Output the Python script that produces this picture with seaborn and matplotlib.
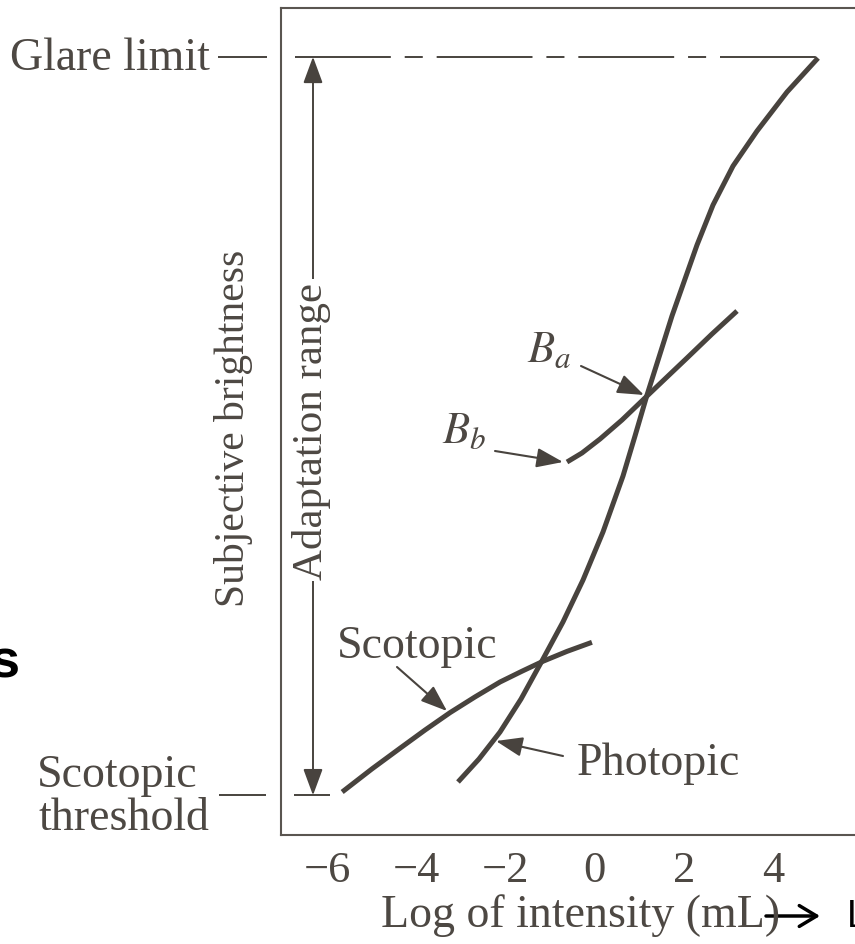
import matplotlib
matplotlib.use("Agg")
import matplotlib.pyplot as plt
import seaborn as sns

# readings: x = log intensity (mL), y = subjective brightness (arbitrary units)
photopic_x = [-3.063, -2.592, -2.121, -1.650, -1.157, -0.709, -0.260, 0.188, 0.637, 0.906,
              1.175, 1.466, 1.735, 2.027, 2.296, 2.655, 3.103, 3.641, 4.314, 5.009]
photopic_y = [0.641, 0.919, 1.245, 1.644, 2.128, 2.576, 3.083, 3.664, 4.341, 4.825,
              5.320, 5.816, 6.276, 6.723, 7.134, 7.618, 8.089, 8.512, 8.984, 9.395]

scotopic_x = [-5.66, -4.99, -4.36, -3.80, -3.24, -2.68, -2.12, -1.63, -1.16, -0.62, -0.06]
scotopic_y = [0.52, 0.80, 1.05, 1.27, 1.48, 1.67, 1.85, 1.98, 2.10, 2.22, 2.33]

bb_x = [-0.619, -0.283, 0.121, 0.614, 1.175, 1.623, 2.072, 2.632, 3.193]
bb_y = [4.510, 4.619, 4.788, 5.018, 5.308, 5.538, 5.768, 6.058, 6.336]

glare_level = 9.41
threshold_level = 0.48

major_ticks = [-6, -4, -2, 0, 2, 4]
minor_ticks = [-5, -3, -1, 1, 3]
tick_labels = ["\u22126", "\u22124", "\u22122", "0", "2", "4"]

INK = "#48433e"
TEXT = "#4d4843"

W, H = 855, 945
X0, XU = 594.6, 44.6   # pixel of x=0 and pixels per unit
Y0, YU = 836, 82.7     # pixel of y=0 and pixels per unit


def dx(px):
    return (px - X0) / XU


def dy(py):
    return (Y0 - py) / YU


def fx(px):
    return px / W


def fy(py):
    return 1 - py / H


sns.set_theme(style="white")
plt.rcParams["font.family"] = ["Liberation Serif", "DejaVu Serif"]
plt.rcParams["mathtext.fontset"] = "stix"
plt.rcParams["lines.scale_dashes"] = False

fig = plt.figure(figsize=(W / 100, H / 100), dpi=100)
ax = fig.add_axes([fx(281), fy(836), 1 - fx(281), (836 - 9) / H])
ax.set_xlim(dx(281), dx(855))
ax.set_ylim(0, dy(9))

# curves
for xs, ys in [(photopic_x, photopic_y), (scotopic_x, scotopic_y), (bb_x, bb_y)]:
    sns.lineplot(x=xs, y=ys, ax=ax, color=INK, lw=3.6, sort=False, estimator=None,
                 solid_capstyle="butt", solid_joinstyle="round")

# glare limit dashed line and leaders
ax.hlines(glare_level, dx(295), dx(818), colors=INK, lw=1.4,
          linestyles=[(0, (69, 10, 13, 10))])
ax.hlines(glare_level, dx(218), dx(267), colors=INK, lw=1.4, clip_on=False)
ax.hlines(threshold_level, dx(219), dx(266), colors=INK, lw=1.4, clip_on=False)
ax.hlines(threshold_level, dx(294), dx(330), colors=INK, lw=1.4)

# adaptation range arrow
x_ar = dx(313)
ax.annotate("", xy=(x_ar, glare_level), xytext=(x_ar, threshold_level),
            arrowprops=dict(arrowstyle="<|-|>,head_length=0.65,head_width=0.24",
                            mutation_scale=25, lw=1.4, color=INK, shrinkA=0, shrinkB=0))
ax.text(dx(311), dy(431), "Adaptation range", rotation=90, ha="center", va="center",
        fontsize=31, color=TEXT, bbox=dict(fc="white", ec="none", pad=2))


def pointer(p_from, p_to):
    ax.annotate("", xy=(dx(p_to[0]), dy(p_to[1])), xytext=(dx(p_from[0]), dy(p_from[1])),
                arrowprops=dict(arrowstyle="-|>,head_length=0.65,head_width=0.24",
                                mutation_scale=25, lw=1.5, color=INK, shrinkA=0, shrinkB=0))


pointer((397, 668), (447, 712))
pointer((563, 757), (496, 742))
pointer((581, 367), (644, 396))
pointer((495, 452), (563, 463))

ax.text(dx(337), dy(658), "Scotopic", ha="left", va="baseline", fontsize=33, color=TEXT)
ax.text(dx(577), dy(775), "Photopic", ha="left", va="baseline", fontsize=33, color=TEXT)
ax.text(dx(527), dy(362), r"$B_a$", ha="left", va="baseline", fontsize=32, color=TEXT)
ax.text(dx(442), dy(443), r"$B_b$", ha="left", va="baseline", fontsize=32, color=TEXT)

# axes styling
for side in ["left", "bottom", "top"]:
    ax.spines[side].set_color("#5a5550")
    ax.spines[side].set_linewidth(1.5)
ax.spines["right"].set_visible(False)
ax.set_yticks([])
ax.set_xticks(major_ticks)
ax.set_xticklabels(tick_labels)
ax.set_xticks(minor_ticks, minor=True)
ax.tick_params(axis="x", which="major", direction="in", length=21, width=1.1,
               colors=INK, labelcolor=TEXT, labelsize=32, pad=11)
ax.tick_params(axis="x", which="minor", direction="in", length=11, width=1.1, colors=INK)

# outside labels
fig.text(fx(210), fy(70), "Glare limit", ha="right", va="baseline", fontsize=33, color=TEXT)
fig.text(fx(37), fy(787), "Scotopic", ha="left", va="baseline", fontsize=33, color=TEXT)
fig.text(fx(38), fy(830), "threshold", ha="left", va="baseline", fontsize=33, color=TEXT)
fig.text(fx(233), fy(428), "Subjective brightness", rotation=90, ha="center", va="center",
         fontsize=30, color=TEXT)
fig.text(fx(581), fy(927), "Log of intensity (mL)", ha="center", va="baseline",
         fontsize=33, color=TEXT)

# slide leftovers
fig.text(fx(19), fy(678), "s", ha="right", va="baseline", fontsize=39, fontweight="bold",
         family="Liberation Sans", color="black")
fig.text(fx(847), fy(927), "L", ha="left", va="baseline", fontsize=27,
         family="Liberation Sans", color="black")
ax.annotate("", xy=(fx(820), fy(917)), xytext=(fx(766), fy(917)), xycoords="figure fraction",
            annotation_clip=False,
            arrowprops=dict(arrowstyle="->,head_length=0.5,head_width=0.3", mutation_scale=25,
                            lw=2.5, color="black", shrinkA=0, shrinkB=0))

fig.savefig("out.png", dpi=100)
